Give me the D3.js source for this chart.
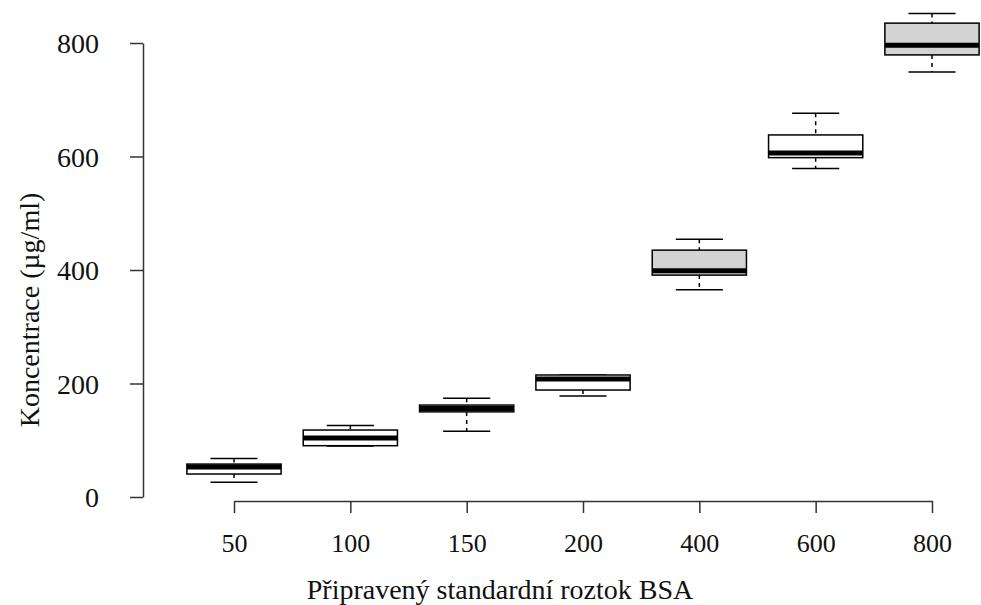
<!DOCTYPE html>
<html>
<head>
<meta charset="utf-8">
<script src="https://cdn.jsdelivr.net/npm/d3@7"></script>
<style>
  html, body { margin: 0; padding: 0; background: #fff; }
  svg { display: block; }
  text { font-family: "Liberation Serif", "Times New Roman", serif; fill: #111; }
</style>
</head>
<body>
<svg id="chart" width="981" height="605"></svg>
<script>
// Prepared BSA standards and the measured concentration distribution (µg/ml)
const categories  = ["50", "100", "150", "200", "400", "600", "800"];
const whiskerLow  = [26, 90, 116, 178, 365, 579, 749];
const quart1      = [40.5, 90.4, 150, 188.5, 391, 598, 779];
const medians     = [53, 104, 156, 208, 398.5, 606, 796];
const quart3      = [58, 118, 162, 215, 435, 638, 835];
const whiskerHigh = [68, 126, 174, 215, 454, 676, 852];
const boxFill     = ["#ffffff", "#ffffff", "#ffffff", "#ffffff", "#d3d3d3", "#ffffff", "#d3d3d3"];
const yTicks      = [0, 200, 400, 600, 800];

const svg = d3.select("#chart");

const x = d3.scalePoint().domain(categories).range([234, 932]);
const y = d3.scaleLinear().domain([0, 800]).range([497, 43]);
const boxW = x.step() * 0.81;
const capW = boxW * 0.5;

const rows = categories.map((c, i) => ({
  c, lo: whiskerLow[i], q1: quart1[i], med: medians[i], q3: quart3[i], hi: whiskerHigh[i], fill: boxFill[i]
}));

// Axes
const yAxis = svg.append("g")
  .attr("transform", "translate(143,0)")
  .call(d3.axisLeft(y).tickValues(yTicks).tickSize(13).tickSizeOuter(0).tickPadding(31));
const xAxis = svg.append("g")
  .attr("transform", "translate(0,501)")
  .call(d3.axisBottom(x).tickSize(12).tickSizeOuter(0).tickPadding(21));

[yAxis, xAxis].forEach(g => {
  g.selectAll("path, line").attr("stroke", "#333").attr("stroke-width", 1.5);
  g.selectAll("text").style("font-family", '"Liberation Serif", serif').attr("fill", "#111");
});
yAxis.selectAll("text").style("font-size", "28px").attr("dy", "0.34em");
xAxis.selectAll("text").style("font-size", "26px");

// Boxes
const box = svg.append("g").selectAll("g").data(rows).join("g");

// dashed whiskers
box.append("line")
  .attr("x1", d => x(d.c)).attr("x2", d => x(d.c))
  .attr("y1", d => y(d.hi)).attr("y2", d => y(d.q3))
  .attr("stroke", "#000").attr("stroke-width", 1.5).attr("stroke-dasharray", "4,4");
box.append("line")
  .attr("x1", d => x(d.c)).attr("x2", d => x(d.c))
  .attr("y1", d => y(d.q1)).attr("y2", d => y(d.lo))
  .attr("stroke", "#000").attr("stroke-width", 1.5).attr("stroke-dasharray", "4,4");
// whisker caps
box.append("line")
  .attr("x1", d => x(d.c) - capW / 2).attr("x2", d => x(d.c) + capW / 2)
  .attr("y1", d => y(d.hi)).attr("y2", d => y(d.hi))
  .attr("stroke", "#000").attr("stroke-width", 1.5);
box.append("line")
  .attr("x1", d => x(d.c) - capW / 2).attr("x2", d => x(d.c) + capW / 2)
  .attr("y1", d => y(d.lo)).attr("y2", d => y(d.lo))
  .attr("stroke", "#000").attr("stroke-width", 1.5);
// interquartile box
box.append("rect")
  .attr("x", d => x(d.c) - boxW / 2).attr("width", boxW)
  .attr("y", d => y(d.q3)).attr("height", d => y(d.q1) - y(d.q3))
  .attr("fill", d => d.fill).attr("stroke", "#000").attr("stroke-width", 1.5);
// median
box.append("line")
  .attr("x1", d => x(d.c) - boxW / 2).attr("x2", d => x(d.c) + boxW / 2)
  .attr("y1", d => y(d.med)).attr("y2", d => y(d.med))
  .attr("stroke", "#000").attr("stroke-width", 5);

// Axis titles
svg.append("text")
  .attr("x", 500).attr("y", 599)
  .attr("text-anchor", "middle")
  .style("font-size", "28px")
  .text("Připravený standardní roztok BSA");
svg.append("text")
  .attr("transform", "translate(29,310) rotate(-90)")
  .attr("text-anchor", "middle")
  .attr("dy", "0.34em")
  .style("font-size", "28px")
  .text("Koncentrace  (µg/ml)");
</script>
</body>
</html>
